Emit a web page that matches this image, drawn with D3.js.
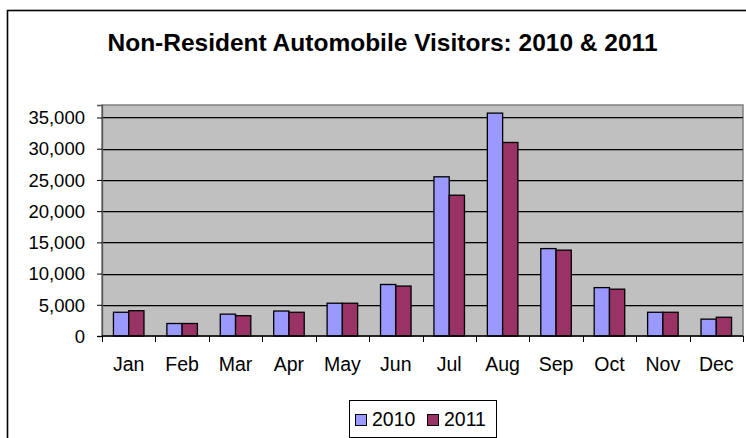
<!DOCTYPE html>
<html>
<head>
<meta charset="utf-8">
<script src="https://cdn.jsdelivr.net/npm/d3@7"></script>
<style>
  body { margin: 0; background: #fff; }
  svg { display: block; font-family: "Liberation Sans", Arial, sans-serif; }
</style>
</head>
<body>
<div id="chart"></div>
<script>
// data
const months = ["Jan", "Feb", "Mar", "Apr", "May", "Jun", "Jul", "Aug", "Sep", "Oct", "Nov", "Dec"];
const visitors2010 = [3800, 2000, 3500, 4000, 5250, 8250, 25500, 35700, 14000, 7750, 3800, 2700];
const visitors2011 = [4050, 2000, 3250, 3800, 5250, 8000, 22550, 31000, 13750, 7500, 3800, 3000];
const seriesNames = ["2010", "2011"];
const yTicks = [0, 5000, 10000, 15000, 20000, 25000, 30000, 35000];

const w = 746, h = 438;
const plot = { left: 102, right: 743, top: 105, bottom: 336 };
const colors = ["#9999FF", "#993366"];

const svg = d3.select("#chart")
  .append("svg")
  .attr("width", w)
  .attr("height", h);

// chart frame (runs off the right and bottom of the picture)
svg.append("rect")
  .attr("x", 7.5).attr("y", 10.5)
  .attr("width", 800).attr("height", 500)
  .attr("fill", "none")
  .attr("stroke", "#000")
  .attr("stroke-width", 1.6);

svg.append("text")
  .attr("x", 382.5).attr("y", 51)
  .attr("text-anchor", "middle")
  .style("font-size", "24.5px")
  .style("font-weight", "bold")
  .text("Non-Resident Automobile Visitors: 2010 & 2011");

let x = d3.scaleBand()
  .domain(months)
  .range([plot.left, plot.right]);

// excel gap width 150%: two bars take 2 / 3.5 of the band
let barW = x.bandwidth() / 3.5;

let y = d3.scaleLinear()
  .domain([0, 37000])
  .range([plot.bottom, plot.top]);

// plot background
svg.append("rect")
  .attr("x", plot.left).attr("y", plot.top)
  .attr("width", plot.right - plot.left)
  .attr("height", plot.bottom - plot.top)
  .attr("fill", "#C0C0C0")
  .attr("stroke", "#808080")
  .attr("stroke-width", 1.5);

// gridlines with the grey shadow under each
let grid = svg.append("g");
yTicks.filter(t => t > 0).forEach(t => {
  let gy = Math.round(y(t)) + 0.5;
  grid.append("line")
    .attr("x1", plot.left).attr("x2", plot.right)
    .attr("y1", gy + 1).attr("y2", gy + 1)
    .attr("stroke", "#8a8a8a");
  grid.append("line")
    .attr("x1", plot.left).attr("x2", plot.right)
    .attr("y1", gy).attr("y2", gy)
    .attr("stroke", "#000");
});

// bars
let rows = months.map((m, i) => ({ month: m, values: [visitors2010[i], visitors2011[i]] }));

svg.selectAll(".group")
  .data(rows)
  .enter()
  .append("g")
  .attr("class", "group")
  .selectAll("rect")
  .data(d => d.values.map((v, s) => ({ month: d.month, v: v, s: s })))
  .enter()
  .append("rect")
  .attr("x", d => x(d.month) + x.bandwidth() / 2 - barW + d.s * barW)
  .attr("y", d => y(d.v))
  .attr("width", barW)
  .attr("height", d => plot.bottom - y(d.v))
  .attr("fill", d => colors[d.s])
  .attr("stroke", "#000")
  .attr("stroke-width", 1.3);

// y axis
let yAxis = d3.axisLeft(y)
  .tickValues(yTicks)
  .tickSize(5)
  .tickPadding(12)
  .tickFormat(d3.format(","));

let yg = svg.append("g")
  .attr("transform", `translate(${plot.left},0)`)
  .call(yAxis);
yg.select(".domain").attr("stroke", "#555").attr("stroke-width", 1.3);
yg.selectAll(".tick line").attr("stroke", "#000");
yg.selectAll(".tick text")
  .attr("fill", "#000")
  .attr("dy", "0.34em")
  .style("font-size", "18.5px")
  .style("font-family", "'Liberation Sans', Arial, sans-serif");

// x axis: ticks sit on the band edges
let xg = svg.append("g");
xg.append("line")
  .attr("x1", plot.left).attr("x2", plot.right)
  .attr("y1", plot.bottom).attr("y2", plot.bottom)
  .attr("stroke", "#000")
  .attr("stroke-width", 1.3);

let edges = months.map(m => x(m)).concat([plot.right]);
xg.selectAll(".xtick")
  .data(edges)
  .enter()
  .append("line")
  .attr("x1", d => Math.round(d) + 0.5)
  .attr("x2", d => Math.round(d) + 0.5)
  .attr("y1", plot.bottom)
  .attr("y2", plot.bottom + 6)
  .attr("stroke", "#000");

xg.selectAll(".xlabel")
  .data(months)
  .enter()
  .append("text")
  .attr("x", d => x(d) + x.bandwidth() / 2)
  .attr("y", 371)
  .attr("text-anchor", "middle")
  .style("font-size", "19.5px")
  .text(d => d);

// legend
let legend = svg.append("g");
legend.append("rect")
  .attr("x", 349.5).attr("y", 400.5)
  .attr("width", 147).attr("height", 37)
  .attr("fill", "#fff")
  .attr("stroke", "#000");

let legendX = [355, 427];
seriesNames.forEach((name, i) => {
  legend.append("rect")
    .attr("x", legendX[i] + 0.5).attr("y", 414.5)
    .attr("width", 11).attr("height", 11)
    .attr("fill", colors[i])
    .attr("stroke", "#000");
  legend.append("text")
    .attr("x", legendX[i] + 17)
    .attr("y", 426)
    .style("font-size", "19.5px")
    .text(name);
});
</script>
</body>
</html>
